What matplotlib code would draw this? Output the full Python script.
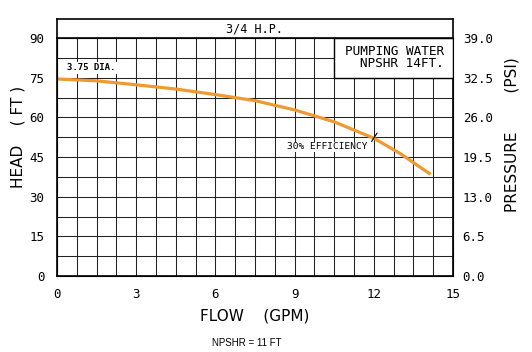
import numpy as np
import matplotlib.pyplot as plt
from matplotlib.ticker import MultipleLocator

# Datos (GPM, pies)
flow = [0, 1.5, 3, 4.5, 6, 7.5, 9, 10.5, 12, 13, 14.1]
head = [74.5, 73.8, 72.3, 70.7, 68.6, 66.3, 62.8, 58.3, 52.1, 46.3, 38.8]

x_ticks = [0, 3, 6, 9, 12, 15]
head_ticks = [0, 15, 30, 45, 60, 75, 90]
psi_ticks = ['0.0', '6.5', '13.0', '19.5', '26.0', '32.5', '39.0']

W, H = 532, 352
MONO = 'DejaVu Sans Mono'
NARANJA = '#EE9A30'

fig = plt.figure(figsize=(W / 100, H / 100), dpi=100)
ax = fig.add_axes([57 / W, 1 - 276 / H, 396 / W, 238 / H])

# rejilla
ax.set_xlim(0, 15)
ax.set_ylim(0, 90)
ax.xaxis.set_minor_locator(MultipleLocator(0.75))
ax.yaxis.set_minor_locator(MultipleLocator(7.5))
ax.set_xticks(x_ticks)
ax.set_yticks(head_ticks)
ax.grid(which='both', color='#222222', lw=0.75)
ax.tick_params(which='both', length=0)
ax.tick_params(axis='x', pad=9)
ax.tick_params(axis='y', pad=9)
for lab in ax.get_xticklabels() + ax.get_yticklabels():
    lab.set_fontfamily(MONO)
    lab.set_fontsize(9)
for s in ax.spines.values():
    s.set_linewidth(1.2)

ax.plot(flow, head, color=NARANJA, lw=2.3, zorder=5)

# eje derecho de presion
ax2 = ax.twinx()
ax2.set_ylim(0, 90)
ax2.set_yticks(head_ticks)
ax2.set_yticklabels(psi_ticks, fontfamily=MONO, fontsize=9)
ax2.tick_params(length=0, pad=7)

# marca de eficiencia
ax.plot([11.92, 12.12], [50.9, 54.0], color='black', lw=0.8, zorder=6)
ax.text(11.78, 48.9, '30% EFFICIENCY', ha='right', va='center', fontsize=6.8,
        fontfamily=MONO, zorder=4,
        bbox=dict(facecolor='white', edgecolor='none', pad=0.5))

ax.text(0.38, 78.7, '3.75 DIA.', ha='left', va='center', fontsize=6.5,
        fontfamily=MONO, fontweight='bold', zorder=4,
        bbox=dict(facecolor='white', edgecolor='none', pad=1))

# caja de condiciones
ax.fill_between([10.5, 15], 75, 90, color='white', edgecolor='black',
                lw=1.0, zorder=3)
ax.text(14.65, 82.6, 'PUMPING WATER\n   NPSHR 14FT.', ha='right',
        va='center', fontsize=9.2, fontfamily=MONO, linespacing=0.9,
        zorder=4)

# caja de titulo
axt = fig.add_axes([57 / W, 1 - 38 / H, 396 / W, 19 / H])
axt.set_xticks([])
axt.set_yticks([])
for s in axt.spines.values():
    s.set_linewidth(1.2)
axt.text(0.5, 0.5, '3/4 H.P.', ha='center', va='center', fontsize=8.5,
         fontfamily=MONO, transform=axt.transAxes)

fig.text(255 / W, 1 - 316 / H, 'FLOW    (GPM)', ha='center', va='center',
         fontsize=11)
fig.text(18 / W, 1 - 137 / H, 'HEAD    ( FT )', ha='center', va='center',
         fontsize=11, rotation=90)
fig.text(512 / W, 1 - 135 / H, 'PRESSURE        (PSI)', ha='center',
         va='center', fontsize=11, rotation=90)
fig.text(247 / W, 1 - 343 / H, 'NPSHR = 11 FT', ha='center', va='center',
         fontsize=7, fontfamily='Liberation Sans')

fig.savefig('out.png', dpi=100)
